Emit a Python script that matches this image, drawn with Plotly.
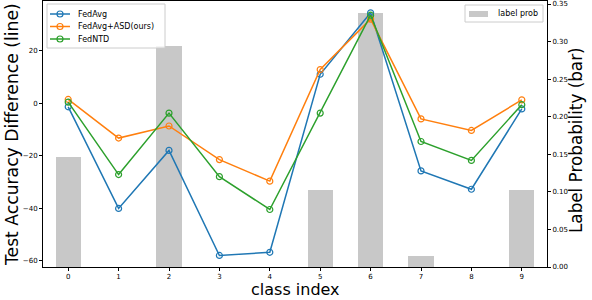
import plotly.graph_objects as go

classes = list(range(10))
label_prob = [0.147, 0.0, 0.294, 0.0, 0.0, 0.103, 0.338, 0.015, 0.0, 0.103]
fedavg = [-1.4, -40.1, -18.0, -58.0, -56.8, 11.0, 34.4, -25.8, -32.8, -2.2]
fedavg_asd = [1.4, -13.3, -8.7, -21.5, -29.7, 12.8, 32.0, -6.0, -10.4, 1.25]
fedntd = [0.4, -27.2, -3.8, -28.0, -40.5, -3.8, 33.5, -14.6, -21.8, -0.6]

series = [("FedAvg", fedavg, "#1f77b4"),
          ("FedAvg+ASD(ours)", fedavg_asd, "#ff7f0e"),
          ("FedNTD", fedntd, "#2ca02c")]
BAR_NAME = "label prob"
BAR_COLOR = "#c8c8c8"

FONT = "DejaVu Sans"
W, H = 592, 300
L, R, T, B = 43, 45, 1, 33
PW, PH = W - L - R, H - T - B


def px(x):
    return (x - L) / PW


def py(y):
    return (H - B - y) / PH


fig = go.Figure()

fig.add_trace(go.Bar(x=classes, y=label_prob, width=0.5, name=BAR_NAME,
                     marker=dict(color=BAR_COLOR, line=dict(width=0)),
                     yaxis="y", showlegend=False))

for name, vals, col in series:
    fig.add_trace(go.Scatter(x=classes, y=vals, name=name, mode="lines+markers",
                             line=dict(color=col, width=1.5),
                             marker=dict(symbol="circle-open", size=6, color=col,
                                         line=dict(width=1.2, color=col)),
                             yaxis="y2", showlegend=False))

axis_common = dict(showline=True, linecolor="black", linewidth=1, ticks="outside",
                   ticklen=3, tickwidth=0.8, tickcolor="black", showgrid=False,
                   zeroline=False, automargin=False,
                   tickfont=dict(family=FONT, size=7, color="black"))

shapes = []
annotations = []

# legend 1 (lines)
shapes.append(dict(type="rect", xref="paper", yref="paper",
                   x0=px(47), x1=px(165), y0=py(48), y1=py(4),
                   line=dict(color="#cccccc", width=1), fillcolor="rgba(255,255,255,0.8)",
                   layer="above"))
row_y = [14, 26.5, 39]
for (name, vals, col), ry in zip(series, row_y):
    shapes.append(dict(type="line", xref="paper", yref="paper",
                       x0=px(50), x1=px(70), y0=py(ry), y1=py(ry),
                       line=dict(color=col, width=1.5), layer="above"))
    shapes.append(dict(type="circle", xref="paper", yref="paper",
                       xsizemode="pixel", ysizemode="pixel",
                       xanchor=px(60), yanchor=py(ry), x0=-3, x1=3, y0=-3, y1=3,
                       line=dict(color=col, width=1.2), layer="above"))
    annotations.append(dict(text=name, xref="paper", yref="paper", x=px(76), y=py(ry),
                            xanchor="left", yanchor="middle", showarrow=False,
                            font=dict(family=FONT, size=8, color="black")))

# legend 2 (bars)
shapes.append(dict(type="rect", xref="paper", yref="paper",
                   x0=px(465), x1=px(543), y0=py(22), y1=py(5),
                   line=dict(color="#cccccc", width=1), fillcolor="rgba(255,255,255,0.8)",
                   layer="above"))
shapes.append(dict(type="rect", xref="paper", yref="paper",
                   x0=px(469), x1=px(488), y0=py(17), y1=py(11),
                   line=dict(width=0), fillcolor=BAR_COLOR, layer="above"))
annotations.append(dict(text=BAR_NAME, xref="paper", yref="paper", x=px(496), y=py(13.5),
                        xanchor="left", yanchor="middle", showarrow=False,
                        font=dict(family=FONT, size=8, color="black")))

# axis titles
annotations.append(dict(text="class index", xref="paper", yref="paper", x=0.5, y=py(300),
                        xanchor="center", yanchor="bottom", showarrow=False, borderpad=0,
                        font=dict(family=FONT, size=16, color="black")))
annotations.append(dict(text="Test Accuracy Difference (line)", xref="paper", yref="paper",
                        x=px(12), y=py(135), xanchor="center", yanchor="middle",
                        textangle=-90, showarrow=False,
                        font=dict(family=FONT, size=17.2, color="black")))
annotations.append(dict(text="Label Probability (bar)", xref="paper", yref="paper",
                        x=px(576), y=py(140), xanchor="center", yanchor="middle",
                        textangle=-90, showarrow=False,
                        font=dict(family=FONT, size=16.8, color="black")))

fig.update_layout(
    width=W, height=H,
    margin=dict(l=L, r=R, t=T, b=B),
    paper_bgcolor="white", plot_bgcolor="white",
    font=dict(family=FONT, color="black"),
    bargap=0, showlegend=False,
    xaxis=dict(range=[-0.5, 9.5], tickvals=classes, mirror=True, **axis_common),
    yaxis=dict(range=[0, 0.354], side="right",
               tickvals=[0, 0.05, 0.1, 0.15, 0.2, 0.25, 0.3, 0.35],
               tickformat=".2f", **axis_common),
    yaxis2=dict(range=[-62.4, 38.9], side="left", overlaying="y", anchor="x",
                tickvals=[-60, -40, -20, 0, 20], **axis_common),
    shapes=shapes, annotations=annotations,
)

fig.write_html("out.html", config={"displayModeBar": False},
               post_script="document.body.style.margin='0';")
